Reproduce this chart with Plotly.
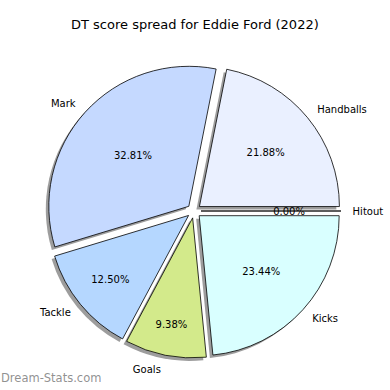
import plotly.graph_objects as go

labels = ["Hitout", "Handballs", "Mark", "Tackle", "Goals", "Kicks"]
values = [0, 14, 21, 8, 6, 15]
colors = ["#ffffff", "#eaf0ff", "#c5d9ff", "#b5d7ff", "#d3ea8b", "#d9ffff"]
title = "DT score spread for Eddie Ford (2022)"
watermark = "Dream-Stats.com"

W = H = 390
cx, cy = 194, 179  # pie centre (px from bottom-left)
half = 147
pull = [0.05] * len(values)
FONT = "DejaVu Sans"

def dom(h, dx=0, dy=0):
    return dict(x=[(cx - h + dx) / W, (cx + h + dx) / W],
                y=[(cy - h + dy) / H, (cy + h + dy) / H])

common = dict(labels=labels, values=values, sort=False, direction="counterclockwise",
              rotation=90, hoverinfo="skip", showlegend=False)
clear = ["rgba(0,0,0,0)"] * len(values)

fig = go.Figure()
# shadow
fig.add_trace(go.Pie(**common, pull=pull, domain=dom(half, -3, -3),
                     marker=dict(colors=["#8c8c8c"] * len(values), line=dict(width=0)),
                     textinfo="none", opacity=0.85))
# main pie with percentages
fig.add_trace(go.Pie(**common, pull=pull, domain=dom(half),
                     marker=dict(colors=colors, line=dict(color="#000000", width=0.8)),
                     texttemplate="%{percent:.2%}", textposition="inside",
                     insidetextorientation="horizontal",
                     textfont=dict(family=FONT, size=10, color="#000000")))
# percentage for zero-valued slices (cannot sit inside a zero-width wedge)
fig.add_trace(go.Pie(**common, domain=dom(half * 0.52),
                     marker=dict(colors=clear, line=dict(width=0)),
                     texttemplate=["%{percent:.2%}" if v == 0 else "" for v in values],
                     textposition="outside",
                     outsidetextfont=dict(family=FONT, size=10, color="#000000")))
# category labels outside
fig.add_trace(go.Pie(**common, domain=dom(half * 1.06),
                     marker=dict(colors=clear, line=dict(width=0)),
                     texttemplate="%{label}", textposition="outside",
                     outsidetextfont=dict(family=FONT, size=10, color="#000000")))

fig.update_layout(
    width=W, height=H, margin=dict(l=0, r=0, t=0, b=0),
    paper_bgcolor="white", plot_bgcolor="white",
    annotations=[
        dict(text=title, x=0.5, y=1 - 25 / H, xref="paper", yref="paper",
             xanchor="center", yanchor="middle", showarrow=False,
             font=dict(family=FONT, size=13, color="#000000")),
        dict(text=watermark, x=-0.002, y=3 / H, xref="paper", yref="paper",
             xanchor="left", yanchor="bottom", showarrow=False,
             font=dict(family=FONT, size=11.5, color="rgba(125,125,125,0.85)")),
    ],
)
fig.write_html("out.html", config={"displayModeBar": False},
               post_script="document.body.style.margin='0';document.body.style.padding='0';")
